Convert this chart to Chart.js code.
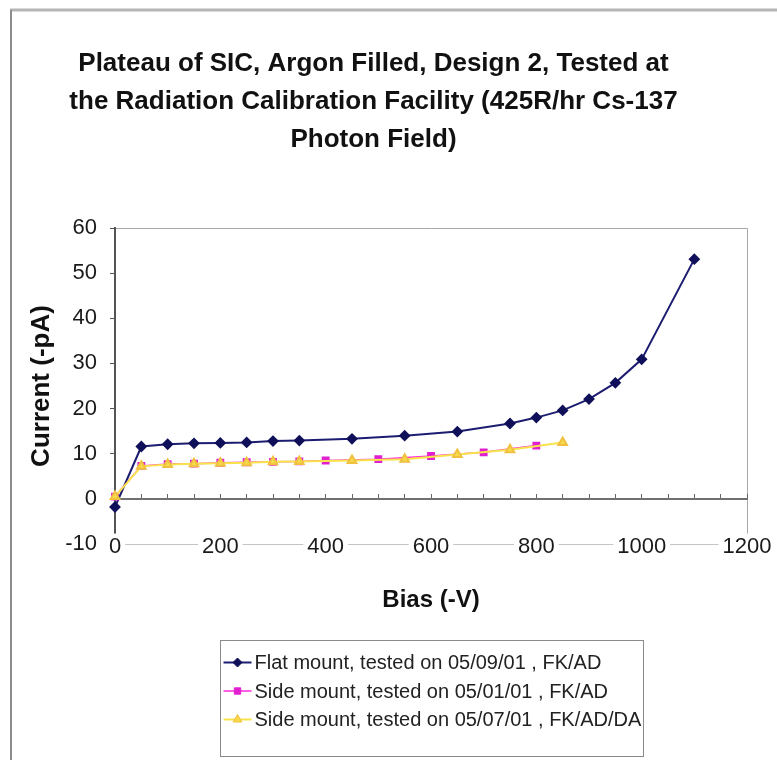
<!DOCTYPE html>
<html>
<head>
<meta charset="utf-8">
<title>Plateau of SIC</title>
<script src="https://cdn.jsdelivr.net/npm/chart.js@4.4.1/dist/chart.umd.min.js"></script>
<style>
  html, body { margin: 0; padding: 0; background: #fff; }
  #wrap { position: relative; width: 777px; height: 760px; }
</style>
</head>
<body>
<div id="wrap"><canvas id="plateau"></canvas></div>
<script>
// values: bias in -V, current in -pA
const flatBias = [0, 50, 100, 150, 200, 250, 300, 350, 450, 550, 650, 750, 800, 850, 900, 950, 1000, 1100];
const flatCurrent = [-1.8, 11.6, 12.1, 12.3, 12.4, 12.5, 12.8, 12.9, 13.3, 14.0, 14.9, 16.7, 18.0, 19.6, 22.1, 25.7, 30.9, 53.1];

const side1Bias = [0, 50, 100, 150, 200, 250, 300, 350, 400, 500, 600, 700, 800];
const side1Current = [0.5, 7.3, 7.7, 7.8, 8.0, 8.1, 8.2, 8.3, 8.5, 8.8, 9.5, 10.3, 11.8];

const side2Bias = [0, 50, 100, 150, 200, 250, 300, 350, 450, 550, 650, 750, 850];
const side2Current = [0.5, 7.2, 7.6, 7.8, 7.9, 8.0, 8.2, 8.3, 8.5, 8.8, 9.8, 10.9, 12.5];

const seriesLabels = [
  'Flat mount, tested on 05/09/01 , FK/AD',
  'Side mount, tested on 05/01/01 , FK/AD',
  'Side mount, tested on 05/07/01 , FK/AD/DA'
];
const titleLines = [
  'Plateau of SIC, Argon Filled, Design 2, Tested at',
  'the Radiation Calibration Facility (425R/hr Cs-137',
  'Photon Field)'
];

const FONT = "'Liberation Sans', Arial, Helvetica, sans-serif";
Chart.defaults.font.family = FONT;

function points(xs, ys) {
  return xs.map((x, i) => ({ x: x, y: ys[i] }));
}

// white sheet, its border, and the top/right edge of the plot area
const frame = {
  id: 'frame',
  beforeDraw(chart) {
    const { ctx, chartArea: a } = chart;
    ctx.save();
    ctx.fillStyle = '#fff';
    ctx.fillRect(0, 0, chart.width, chart.height);
    ctx.strokeStyle = '#b5b5b5';
    ctx.lineWidth = 3;
    ctx.beginPath();
    ctx.moveTo(10, 10);
    ctx.lineTo(chart.width, 10);
    ctx.stroke();
    ctx.strokeStyle = '#8c8c8c';
    ctx.lineWidth = 2;
    ctx.beginPath();
    ctx.moveTo(11, 10);
    ctx.lineTo(11, chart.height);
    ctx.stroke();
    ctx.strokeStyle = '#a8a8a8';
    ctx.lineWidth = 1;
    ctx.beginPath();
    ctx.moveTo(a.left, a.top + 0.5);
    ctx.lineTo(a.right + 0.5, a.top + 0.5);
    ctx.lineTo(a.right + 0.5, a.bottom);
    ctx.stroke();
    ctx.restore();
  }
};

// boxed legend below the axis title, one series per row
const boxLegend = {
  id: 'boxLegend',
  afterDraw(chart) {
    const { ctx, chartArea: a } = chart;
    const mid = (a.left + a.right) / 2;
    const left = Math.round(mid - 211.5) + 0.5;
    const top = chart.scales.x.bottom + 25.5;
    const w = 423, h = 116, rowH = 28.5;
    ctx.save();
    ctx.strokeStyle = '#8a8a8a';
    ctx.lineWidth = 1;
    ctx.strokeRect(left, top, w, h);
    ctx.font = '20px ' + FONT;
    ctx.textBaseline = 'middle';
    ctx.textAlign = 'left';
    chart.data.datasets.forEach((ds, i) => {
      const y = top + 22 + i * rowH;
      ctx.strokeStyle = ds.borderColor;
      ctx.lineWidth = ds.borderWidth;
      ctx.beginPath();
      ctx.moveTo(left + 3, y);
      ctx.lineTo(left + 31, y);
      ctx.stroke();
      ctx.fillStyle = ds.pointBackgroundColor;
      ctx.strokeStyle = ds.pointBorderColor;
      ctx.lineWidth = 1;
      Chart.helpers.drawPoint(ctx, { pointStyle: ds.pointStyle, radius: ds.pointRadius, borderWidth: 1, rotation: 0 }, left + 17, y);
      ctx.fillStyle = '#222';
      ctx.fillText(ds.label, left + 34, y + 1);
    });
    ctx.restore();
  }
};

new Chart(document.getElementById('plateau'), {
  type: 'line',
  data: {
    datasets: [
      {
        label: seriesLabels[0],
        data: points(flatBias, flatCurrent),
        borderColor: '#1c1c70',
        borderWidth: 2,
        pointStyle: 'rectRot',
        pointRadius: 4.5,
        pointBackgroundColor: '#10105a',
        pointBorderColor: '#10105a',
        order: 2,
        clip: 10
      },
      {
        label: seriesLabels[1],
        data: points(side1Bias, side1Current),
        borderColor: '#ff2bd8',
        borderWidth: 1.5,
        pointStyle: 'rect',
        pointRadius: 4.5,
        pointBackgroundColor: '#e020d0',
        pointBorderColor: '#e020d0',
        order: 1,
        clip: 10
      },
      {
        label: seriesLabels[2],
        data: points(side2Bias, side2Current),
        borderColor: '#f8e44a',
        borderWidth: 2,
        pointStyle: 'triangle',
        pointRadius: 5,
        pointBackgroundColor: '#f7d94a',
        pointBorderColor: '#f0c040',
        order: 0,
        clip: 10
      }
    ]
  },
  options: {
    responsive: true,
    maintainAspectRatio: false,
    animation: false,
    layout: { padding: { left: 0, right: 30, top: 0, bottom: 145 } },
    plugins: {
      legend: { display: false },
      tooltip: { enabled: false },
      title: {
        display: true,
        text: titleLines,
        color: '#111',
        font: { size: 26, weight: 'bold', lineHeight: 38 / 26 },
        padding: { top: 45, bottom: 69 }
      }
    },
    scales: {
      x: {
        type: 'linear',
        position: 'bottom',
        min: 0,
        max: 1200,
        ticks: {
          stepSize: 200,
          mirror: true,
          padding: -16,
          color: '#1a1a1a',
          font: { size: 22 },
          maxRotation: 0,
          showLabelBackdrop: true,
          backdropColor: '#fff',
          backdropPadding: { x: 4, y: 0 },
          z: 1,
          callback: (v) => String(v)
        },
        grid: { drawOnChartArea: false, drawTicks: false },
        border: { color: '#c4c4c4', width: 1 },
        title: { display: true, text: 'Bias (-V)', color: '#111', font: { size: 24, weight: 'bold' }, padding: 0 },
        afterFit(s) { s.height = 71; }
      },
      xTicks: {
        type: 'linear',
        position: { y: 0 },
        min: 0,
        max: 1200,
        ticks: { stepSize: 50, display: false },
        grid: { drawOnChartArea: false, tickLength: -6, color: '#666', lineWidth: 1 },
        border: { color: '#707070', width: 2 },
        afterFit(s) { s.height = 0; }
      },
      y: {
        min: -10,
        max: 60,
        ticks: { stepSize: 10, padding: 13, color: '#1a1a1a', font: { size: 22 } },
        grid: { drawOnChartArea: false, tickLength: 5, color: '#555' },
        border: { color: '#555', width: 2 },
        title: { display: true, text: 'Current (-pA)', color: '#111', font: { size: 26, weight: 'bold' }, padding: { top: 26, bottom: 0 } },
        afterFit(s) { s.width = 115; }
      }
    }
  },
  plugins: [frame, boxLegend]
});
</script>
</body>
</html>
